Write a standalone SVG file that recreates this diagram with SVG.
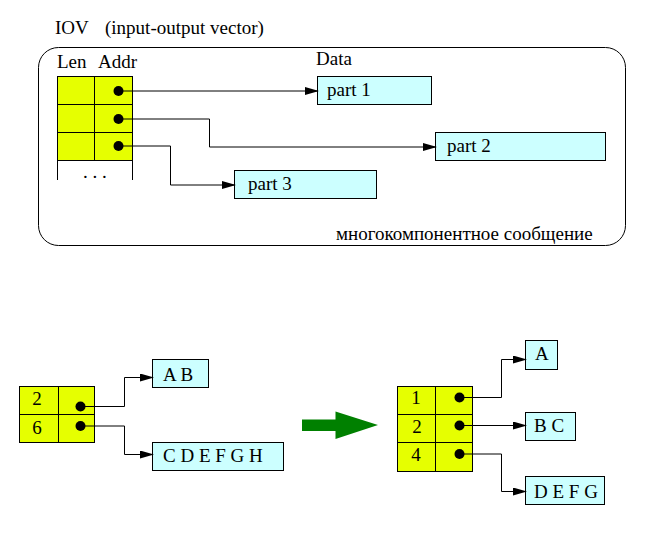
<svg xmlns="http://www.w3.org/2000/svg" width="669" height="556" viewBox="0 0 669 556">
<defs>
<style>
text{font-family:'Liberation Serif','Times New Roman','DejaVu Serif',serif;font-size:19px;fill:#000}
.cell{fill:#e6ff00;stroke:#000;stroke-width:1}
.box{fill:#ccffff;stroke:#000;stroke-width:1}
.ln{fill:none;stroke:#000;stroke-width:1}
.con{fill:none;stroke:#000;stroke-width:1;marker-end:url(#ah)}
.c{text-anchor:middle}
</style>
<marker id="ah" viewBox="0 0 14 8" refX="13" refY="4" markerWidth="14" markerHeight="8" markerUnits="userSpaceOnUse" orient="auto">
<path d="M0,0 L14,4 L0,8 Z" fill="#000"/>
</marker>
</defs>
<rect width="669" height="556" fill="#fff"/>

<g id="iov-frame">
<text x="55" y="34">IOV</text>
<text x="105" y="34">(input-output vector)</text>
<rect x="38.5" y="47.5" width="587" height="198" rx="20" ry="20" class="ln"/>
<text x="336" y="240">многокомпонентное сообщение</text>
</g>

<g id="iov-table">
<text x="57" y="68">Len</text>
<text x="98" y="68">Addr</text>
<rect x="57.5" y="76.5" width="37" height="28" class="cell"/>
<rect x="94.5" y="76.5" width="38" height="28" class="cell"/>
<rect x="57.5" y="104.5" width="37" height="28" class="cell"/>
<rect x="94.5" y="104.5" width="38" height="28" class="cell"/>
<rect x="57.5" y="132.5" width="37" height="28" class="cell"/>
<rect x="94.5" y="132.5" width="38" height="28" class="cell"/>
<path d="M57.5,160.5 V180 M132.5,160.5 V180" class="ln"/>
<text x="83" y="178">. . .</text>
<circle cx="118.5" cy="91" r="5"/>
<circle cx="118.5" cy="119" r="5"/>
<circle cx="118.5" cy="146" r="5"/>
</g>

<g id="data-label"><text x="316" y="65">Data</text></g>
<g id="part1"><rect x="317.5" y="76.5" width="114" height="28" class="box"/><text x="327" y="96">part 1</text></g>
<g id="part2"><rect x="435.5" y="132.5" width="170" height="28" class="box"/><text x="447" y="152">part 2</text></g>
<g id="part3"><rect x="234.5" y="170.5" width="142" height="28" class="box"/><text x="248" y="190">part 3</text></g>

<g id="left-table">
<rect x="19.5" y="386.5" width="39" height="28" class="cell"/>
<rect x="58.5" y="386.5" width="36" height="28" class="cell"/>
<rect x="19.5" y="414.5" width="39" height="28" class="cell"/>
<rect x="58.5" y="414.5" width="36" height="28" class="cell"/>
<text x="37" y="405" class="c">2</text>
<text x="37" y="434" class="c">6</text>
<circle cx="80.5" cy="406.5" r="5"/>
<circle cx="80.5" cy="426" r="5"/>
</g>
<g id="box-ab"><rect x="152.5" y="359.5" width="56" height="28" class="box"/><text x="163" y="381">A B</text></g>
<g id="box-cdefgh"><rect x="152.5" y="442.5" width="131" height="28" class="box"/><text x="163" y="462">C D E F G H</text></g>

<g id="green-arrow">
<path d="M302,419.5 H335.5 V411.5 L378,425 L335.5,439 V431 H302 Z" fill="#008000"/>
</g>

<g id="right-table">
<rect x="397.5" y="386.5" width="38" height="28" class="cell"/>
<rect x="435.5" y="386.5" width="37" height="28" class="cell"/>
<rect x="397.5" y="414.5" width="38" height="28" class="cell"/>
<rect x="435.5" y="414.5" width="37" height="28" class="cell"/>
<rect x="397.5" y="442.5" width="38" height="29" class="cell"/>
<rect x="435.5" y="442.5" width="37" height="29" class="cell"/>
<text x="416" y="404" class="c">1</text>
<text x="417" y="433" class="c">2</text>
<text x="416" y="461" class="c">4</text>
<circle cx="459.5" cy="397.5" r="5"/>
<circle cx="459.5" cy="425.5" r="5"/>
<circle cx="459.5" cy="454" r="5"/>
</g>
<g id="box-a"><rect x="525.5" y="340.5" width="32" height="29" class="box"/><text x="535" y="360">A</text></g>
<g id="box-bc"><rect x="525.5" y="412.5" width="50" height="28" class="box"/><text x="534" y="432">B C</text></g>
<g id="box-defg"><rect x="525.5" y="476.5" width="79" height="28" class="box"/><text x="534" y="498">D E F G</text></g>

<g id="connectors">
<path d="M118.5,91 H318" class="con"/>
<path d="M118.5,119 H209.5 V147 H436" class="con"/>
<path d="M118.5,146 H170.5 V185 H235" class="con"/>
<path d="M80.5,406.5 H124.5 V377.5 H153" class="con"/>
<path d="M80.5,426 H124.5 V454.5 H153" class="con"/>
<path d="M459.5,397.5 H501.5 V359.5 H526" class="con"/>
<path d="M459.5,425.5 H526" class="con"/>
<path d="M459.5,454 H501.5 V491.5 H526" class="con"/>
</g>
</svg>
